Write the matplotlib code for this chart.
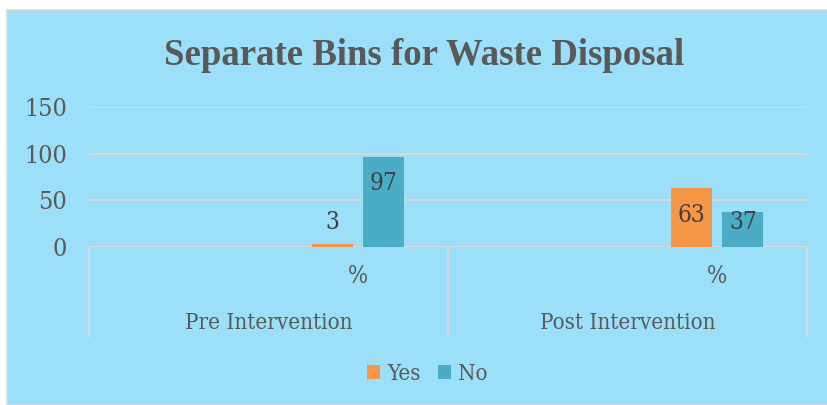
"""Separate bins for waste disposal: grouped bar chart, Excel style."""

import matplotlib
matplotlib.use("Agg")
import matplotlib.pyplot as plt
from matplotlib.patches import Rectangle, Patch

# Data
groups = ["Pre Intervention", "Post Intervention"]
sub_label = "%"
series = ["Yes", "No"]
yes_values = [3, 63]
no_values = [97, 37]

# Style
BG_COLOR = "#9BDFF8"
GRID_COLOR = "#D9D9D9"
TEXT_COLOR = "#595959"
LABEL_COLOR = "#404040"
YES_COLOR = "#F79646"
NO_COLOR = "#4BACC6"
FONT = "Liberation Serif"
BODY = dict(family="DejaVu Serif", stretch="condensed")

W, H = 828, 405
fig = plt.figure(figsize=(W / 100, H / 100), dpi=100)
fig.patch.set_facecolor("white")

# chart area background with thin border
fig.patches.append(Rectangle((7 / W, 0), 1 - 7 / W, 1 - 10 / H, transform=fig.transFigure,
                             facecolor=BG_COLOR, edgecolor=GRID_COLOR, linewidth=1.2, zorder=-10))

ax = fig.add_axes([89 / W, 1 - 246.7 / H, 718 / W, 139.4 / H])
ax.set_zorder(1)
ax.set_facecolor("none")
ax.set_xlim(-0.5, 1.5)
ax.set_ylim(0, 150)

bar_w = 0.114
sub_off = 0.25
step = 0.143
for i, (yv, nv) in enumerate(zip(yes_values, no_values)):
    cx = i + sub_off
    for x, v, c in [(cx - step / 2, yv, YES_COLOR), (cx + step / 2, nv, NO_COLOR)]:
        ax.bar(x, v, width=bar_w, color=c, zorder=3)
        ax.text(x, max(v - 29, 26), str(v), ha="center", va="center",
                fontsize=17.5, color=LABEL_COLOR, zorder=4, **BODY)
    # sub category and group labels
    ax.text(cx, -32, sub_label, ha="center", va="center", fontsize=17,
            color=TEXT_COLOR, clip_on=False, **BODY)
    ax.text(i, -82, groups[i], ha="center", va="center", fontsize=16,
            color=TEXT_COLOR, clip_on=False, **BODY)

# category axis box
for xb in [-0.5, 0.5, 1.5]:
    ax.plot([xb, xb], [0, -97], color=GRID_COLOR, linewidth=1.2, clip_on=False, zorder=2)

ax.set_yticks([0, 50, 100, 150])
ax.set_xticks([])
ax.grid(True, axis="y", color=GRID_COLOR, linewidth=1.5, zorder=1)
ax.tick_params(axis="y", length=0, pad=16, labelsize=18, labelcolor=TEXT_COLOR)
for lbl in ax.get_yticklabels():
    lbl.set_family(BODY["family"])
    lbl.set_stretch(BODY["stretch"])
for s in ax.spines.values():
    s.set_visible(False)

fig.text(0.512, 1 - 65 / H, "Separate Bins for Waste Disposal", ha="center", va="baseline",
         fontsize=26.5, fontweight="bold", family=FONT, color=TEXT_COLOR)

handles = [Patch(facecolor=YES_COLOR), Patch(facecolor=NO_COLOR)]
fig.legend(handles, series, loc="center", bbox_to_anchor=(0.516, 1 - 374 / H), ncol=2,
           frameon=False, handlelength=0.6, handleheight=0.6, handletextpad=0.3,
           columnspacing=0.8, prop={"size": 16, **BODY}, labelcolor=TEXT_COLOR)

fig.savefig("out.png", dpi=100, facecolor=fig.get_facecolor())
